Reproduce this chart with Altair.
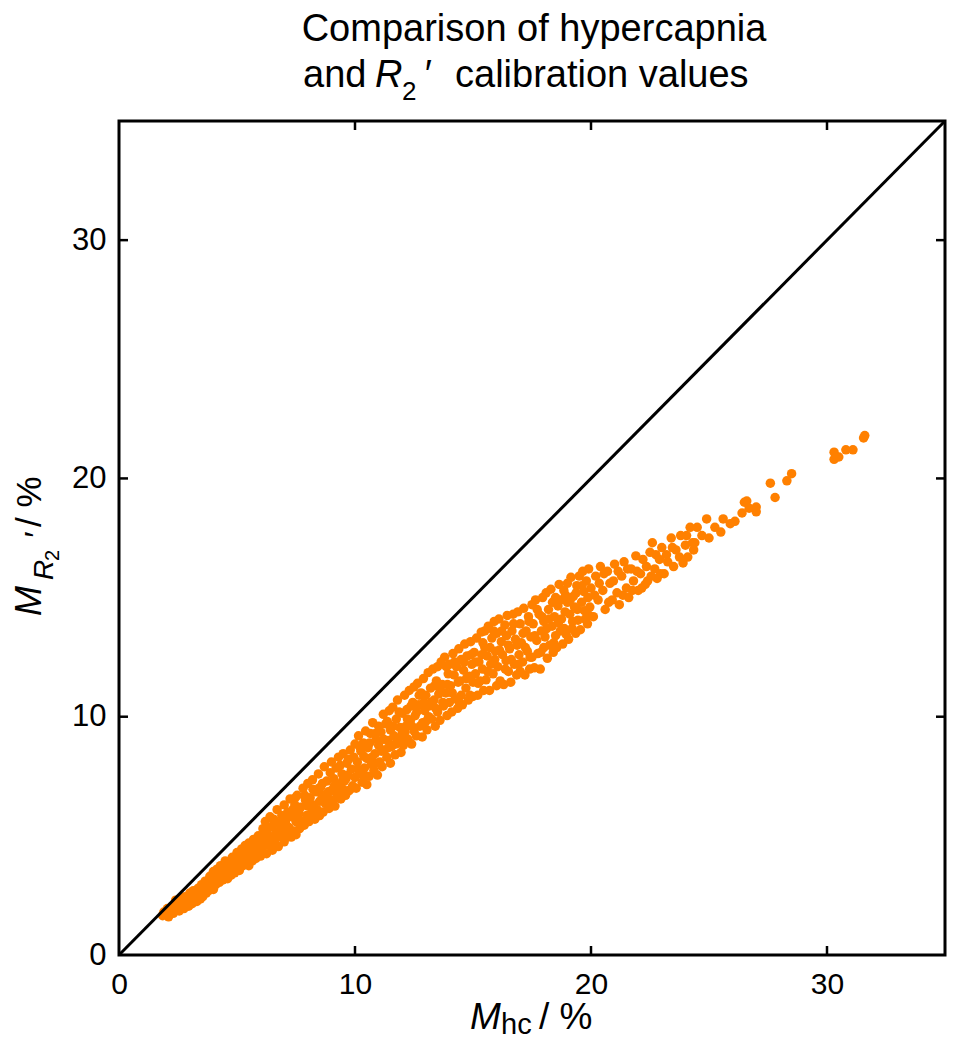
import altair as alt
import pandas as pd

# ---- data (M_hc %, M_R2' %) ----
seg_a = [(1.85,1.65),(1.9,1.8),(2.0,1.7),(2.05,1.95),(2.1,1.6),(2.2,1.85),(2.25,2.05),(2.3,1.75),(2.4,2.3),(2.45,1.9),
         (2.5,2.1),(2.55,1.85),(2.6,2.35),(2.65,2.0),(2.7,2.2),(2.75,1.95),(2.8,2.45),(2.85,2.15),(2.9,2.3),(2.95,2.05),(3.0,2.6),(3.0,2.25),
         (3.05,2.4),(3.1,2.15),(3.15,2.7),(3.2,2.35),(3.25,2.55),(3.3,2.25),(3.35,2.8),(3.4,2.5),(3.45,2.35),(3.5,2.95),(3.5,2.65),
         (3.55,2.45),(3.6,2.8),(3.65,3.1),(3.7,2.6),(3.75,2.95),(3.8,2.7),(3.85,3.3),(3.9,2.85),(3.95,3.05),(4.0,2.75),(4.0,3.5),
         (4.05,3.2),(4.1,2.95),(4.15,3.6),(4.2,3.35),(4.25,3.05),(4.3,3.75),(4.35,3.45),(4.4,3.15),(4.45,3.6),(4.5,3.3),(4.5,3.95),
         (4.55,3.5),(4.6,3.2),(4.65,3.8),(4.7,3.6),(4.75,3.35),(4.8,4.1),(4.85,3.7),(4.9,3.45),(4.95,3.95),(5.0,3.6),(5.0,4.3),
         (5.05,3.85),(5.1,3.55),(5.15,4.15),(5.2,4.45),(5.25,3.75),(5.3,4.05),(5.35,4.6),(5.4,3.9),(5.45,4.3),(5.5,3.75),(5.5,4.7),
         (5.55,4.15),(5.6,4.5),(5.65,3.95),(5.7,4.85),(5.75,4.3),(5.8,4.05),(5.85,4.65),(5.9,5.0),(5.95,4.4),(6.0,4.15),(6.0,4.85)]

seg_b = [(6.05,4.4),(6.1,5.3),(6.15,4.75),(6.2,5.6),(6.25,4.25),(6.3,5.05),(6.35,4.6),(6.4,5.8),(6.45,4.9),(6.5,4.4),(6.5,5.4),
         (6.55,5.7),(6.6,4.7),(6.65,5.15),(6.7,6.1),(6.75,4.55),(6.8,5.5),(6.85,4.95),(6.9,5.85),(6.95,5.25),(7.0,4.75),(7.0,6.3),
         (7.05,5.55),(7.1,5.0),(7.15,6.0),(7.2,5.35),(7.25,6.55),(7.3,4.95),(7.35,5.8),(7.4,5.2),(7.45,6.3),(7.5,5.6),(7.5,5.05),
         (7.55,6.7),(7.6,5.9),(7.65,5.3),(7.7,6.2),(7.75,5.6),(7.8,7.0),(7.85,5.45),(7.9,6.5),(7.95,5.85),(8.0,6.25),(8.0,7.2),
         (8.05,5.6),(8.1,6.6),(8.15,5.95),(8.2,7.35),(8.25,6.3),(8.3,5.7),(8.35,6.85),(8.4,6.1),(8.45,7.6),(8.5,6.45),(8.5,5.85),
         (8.55,7.05),(8.6,6.7),(8.65,6.0),(8.7,7.9),(8.75,6.35),(8.8,7.3),(8.85,6.6),(8.9,6.15),(8.95,7.65),(9.0,6.9),(9.0,8.1),
         (9.05,6.5),(9.1,7.4),(9.15,6.25),(9.2,7.85),(9.25,6.8),(9.3,8.3),(9.35,7.15),(9.4,6.55),(9.45,7.6),(9.5,8.45),(9.5,6.95),
         (9.55,7.3),(9.6,6.7),(9.65,8.05),(9.7,7.55),(9.75,6.9),(9.8,8.6),(9.85,7.8),(9.9,7.1),(9.95,8.3),(10.0,7.45),(10.0,8.85)]

seg_c = [(10.05,7.0),(10.1,8.1),(10.15,9.2),(10.2,7.6),(10.25,8.55),(10.3,7.25),(10.35,8.9),(10.4,7.85),(10.45,9.4),(10.5,8.25),(10.5,7.15),
         (10.55,8.7),(10.6,7.5),(10.65,9.3),(10.7,8.0),(10.75,9.75),(10.8,7.75),(10.85,8.45),(10.9,9.05),(10.95,7.55),(11.0,8.8),(11.0,9.6),
         (11.05,8.1),(11.1,9.35),(11.15,7.9),(11.2,10.1),(11.25,8.6),(11.3,9.7),(11.35,8.3),(11.4,9.0),(11.45,10.25),(11.5,8.05),(11.5,9.45),
         (11.55,8.75),(11.6,10.4),(11.65,9.2),(11.7,8.4),(11.75,9.9),(11.8,10.7),(11.85,8.9),(11.9,9.55),(11.95,8.5),(12.0,10.15),(12.0,9.3),
         (12.05,8.8),(12.1,10.9),(12.15,9.6),(12.2,10.3),(12.25,9.05),(12.3,11.1),(12.35,9.85),(12.4,8.85),(12.45,10.6),(12.5,9.4),(12.5,11.25),
         (12.55,10.05),(12.6,9.2),(12.65,11.4),(12.7,10.5),(12.75,9.6),(12.8,11.0),(12.85,9.15),(12.9,11.6),(12.95,10.25),(13.0,9.8),(13.0,10.9),
         (13.05,9.45),(13.1,11.85),(13.15,10.45),(13.2,11.2),(13.25,9.9),(13.3,12.0),(13.35,10.7),(13.4,9.6),(13.45,11.5),(13.5,10.2),(13.5,12.1),
         (13.55,10.95),(13.6,9.85),(13.65,12.3),(13.7,11.35),(13.75,10.45),(13.8,12.5),(13.85,11.0),(13.9,10.05),(13.95,11.8),(14.0,10.6),(14.0,12.2),
         (14.05,11.3),(14.1,10.2),(14.15,12.65),(14.2,11.75),(14.25,10.75),(14.3,12.1),(14.35,10.35),(14.4,12.85),(14.45,11.5),(14.5,10.9),(14.5,12.4),
         (14.55,10.5),(14.6,11.95),(14.65,13.05),(14.7,11.2),(14.75,12.55),(14.8,10.7),(14.85,11.7),(14.9,13.15),(14.95,12.2),(15.0,10.85),(15.0,11.45)]

seg_d = [(15.05,12.7),(15.1,11.8),(15.15,13.3),(15.2,10.9),(15.25,12.3),(15.3,11.5),(15.35,13.55),(15.4,12.0),(15.45,11.1),(15.5,12.9),(15.5,13.6),
         (15.55,11.55),(15.6,12.55),(15.65,13.8),(15.7,11.1),(15.75,12.2),(15.8,13.3),(15.85,11.8),(15.9,14.0),(15.95,12.75),(16.0,11.3),(16.0,13.5),
         (16.05,12.1),(16.1,14.1),(16.15,11.5),(16.2,13.15),(16.25,12.6),(16.3,11.35),(16.35,13.85),(16.4,12.35),(16.45,14.25),(16.5,11.9),(16.5,13.0),
         (16.55,12.85),(16.6,11.45),(16.65,13.6),(16.7,14.3),(16.75,12.2),(16.8,13.25),(16.85,11.75),(16.9,14.4),(16.95,12.6),(17.0,13.9),(17.0,11.9),
         (17.05,13.1),(17.1,12.3),(17.15,14.55),(17.2,11.75),(17.25,13.6),(17.3,12.75),(17.35,14.2),(17.4,12.0),(17.45,13.35),(17.5,14.7),(17.5,12.5),
         (17.55,13.9),(17.6,12.05),(17.65,14.9),(17.7,13.2),(17.75,12.65),(17.8,14.3),(17.85,12.0),(17.9,13.6),(17.95,15.0),(18.0,12.9),(18.0,14.0),
         (18.05,13.35),(18.1,15.2),(18.15,12.45),(18.2,14.5),(18.25,13.0),(18.3,15.35),(18.35,13.8),(18.4,12.7),(18.45,14.2),(18.5,15.0),(18.5,13.4),
         (18.55,12.9),(18.6,14.65),(18.65,15.55),(18.7,13.6),(18.75,14.1),(18.8,13.05),(18.85,15.3),(18.9,14.4),(18.95,13.45),(19.0,15.6),(19.0,14.8),
         (19.05,13.25),(19.1,14.3),(19.15,15.85),(19.2,13.7),(19.25,15.05),(19.3,14.6),(19.35,13.5),(19.4,15.5),(19.45,14.05),(19.5,15.9),
         (19.55,13.65),(19.6,14.8),(19.65,16.1),(19.7,15.25),(19.75,14.1),(19.8,15.7),(19.85,13.9),(19.9,16.2),(19.95,14.6),(20.0,15.4)]

seg_e = [(20.1,14.2),(20.2,15.9),(20.3,14.9),(20.4,16.3),(20.5,15.3),(20.6,14.5),(20.7,16.1),(20.8,15.6),(20.9,14.9),(21.0,16.4),
         (21.1,15.2),(21.2,14.7),(21.3,15.9),(21.4,16.5),(21.5,15.4),(21.6,15.0),(21.7,16.2),(21.8,15.7),(21.9,16.75),(22.0,15.3),
         (22.1,16.0),(22.2,16.6),(22.3,15.55),(22.4,15.7),(22.5,16.9),(22.6,17.3),(22.7,16.2),(22.8,15.8),(22.9,16.6),(23.0,17.1),
         (23.1,16.0),(23.2,16.8),(23.4,17.5),(23.5,16.3),(23.6,17.0),(23.8,17.6),(23.9,16.45),(24.0,17.2),(24.1,16.7),(24.2,17.95),(24.3,17.3)]

seg_f = [(24.4,17.3),(24.5,17.95),(24.7,17.6),(24.9,18.3),(25.0,17.5),(25.25,17.95),(25.5,17.75),(25.6,18.3),(25.9,18.1),
         (26.1,18.2),(26.4,18.55),(26.5,19.0),(26.6,19.05),(26.7,18.75),(27.0,18.8),(27.0,18.6),(27.6,19.8),(27.8,19.2),
         (28.3,19.9),(28.5,20.2),(30.3,21.1),(30.3,20.8),(30.5,20.9),(30.8,21.2),(31.1,21.2),(31.55,21.7),(31.6,21.8)]

fill_ab = [(2.12,1.9),(2.37,2.0),(2.62,2.1),(2.87,2.3),(3.12,2.5),(3.37,2.6),(3.62,2.7),(3.87,2.95),(4.12,3.2),(4.37,3.3),
           (4.62,3.45),(4.87,3.6),(5.12,3.9),(5.37,4.2),(5.62,4.3),(5.87,4.5),(3.27,2.45),(4.77,3.8),(5.22,4.0),(5.77,4.7),
           (6.12,4.6),(6.22,5.1),(6.37,5.35),(6.62,5.0),(6.72,5.55),(6.87,5.3),(7.12,5.75),(7.22,5.2),(7.37,6.1),(7.62,6.0),
           (7.72,5.5),(7.87,6.7),(8.12,6.25),(8.22,6.95),(8.37,5.9),(8.62,7.2),(8.72,6.5),(8.87,6.85),(9.12,7.1),(9.22,6.6),
           (9.37,7.95),(9.62,7.4),(9.72,8.2),(9.87,7.0),(6.42,4.7),(7.47,6.6),(8.47,7.0),(9.47,7.3)]

fill_cd = [(10.12,7.8),(10.22,8.7),(10.37,8.35),(10.42,7.5),(10.62,8.9),(10.72,8.3),(10.87,9.3),(10.92,8.05),
           (11.12,8.55),(11.22,9.05),(11.37,9.8),(11.42,8.7),(11.62,9.6),(11.72,8.85),(11.87,10.2),(11.92,9.1),
           (12.12,9.35),(12.22,9.9),(12.37,10.45),(12.42,9.6),(12.62,10.2),(12.72,10.9),(12.87,9.75),(12.92,10.6),
           (13.12,10.0),(13.22,10.6),(13.37,11.3),(13.42,10.35),(13.62,11.1),(13.72,10.6),(13.87,12.1),(13.92,11.35),
           (14.12,11.0),(14.22,12.3),(14.37,11.45),(14.42,10.6),(14.62,12.3),(14.72,11.6),(14.87,10.9),(14.92,12.6),
           (15.12,12.3),(15.22,11.4),(15.37,12.6),(15.42,13.1),(15.62,11.9),(15.72,12.9),(15.87,13.6),(15.92,12.4),
           (16.12,12.8),(16.22,13.6),(16.37,12.0),(16.42,13.4),(16.62,12.4),(16.72,13.9),(16.87,13.0),(16.92,12.2),
           (17.12,13.5),(17.22,12.9),(17.37,14.0),(17.42,12.5),(17.62,13.4),(17.72,14.5),(17.87,12.7),(17.92,14.2),
           (18.12,13.7),(18.22,14.1),(18.37,14.8),(18.42,13.1),(18.62,13.95),(18.72,14.9),(18.87,13.7),(18.92,15.1),
           (19.12,14.9),(19.22,14.0),(19.37,15.2),(19.42,14.5),(19.62,15.5),(19.72,14.45),(19.87,15.0),(19.92,14.25)]

fill_e = [(20.15,15.1),(20.35,15.6),(20.55,16.0),(20.75,14.8),(20.95,15.7),(21.15,16.1),(21.35,15.1),(21.55,16.2),
          (21.75,15.3),(21.95,16.1),(22.15,15.4),(22.35,16.3),(22.55,15.9),(22.75,16.8),(22.95,16.0),(23.25,16.5),
          (23.45,17.1),(23.75,16.7),(24.05,17.6),(24.35,17.0)]

tick_vals = [10, 20, 30]
diag_vals = [0, 35]

FONT = "Liberation Sans"
W, H = 826, 834
OX, OY = 119, 121  # page position of the plot area's top-left corner

pts = pd.DataFrame(seg_a + seg_b + seg_c + seg_d + seg_e + seg_f + fill_ab + fill_cd + fill_e,
                   columns=["hc", "r2"])
xs = alt.Scale(domain=[0, 35], nice=False, zero=False)
ys = alt.Scale(domain=[0, 35], nice=False, zero=False)

xaxis = alt.Axis(values=[0, 10, 20, 30], tickSize=0, domain=False, grid=False, labelFontSize=30,
                 labelFont=FONT, labelColor="black", labelPadding=14, title=None, labelFlush=False)
yaxis = alt.Axis(values=[0, 10, 20, 30], tickSize=0, domain=False, grid=False, labelFontSize=31,
                 labelFont=FONT, labelColor="black", labelPadding=13, title=None, labelFlush=False)

scatter = alt.Chart(pts).mark_circle(color="#ff8000", opacity=1, size=90).encode(
    x=alt.X("hc:Q", scale=xs, axis=xaxis),
    y=alt.Y("r2:Q", scale=ys, axis=yaxis),
)

diag = alt.Chart(pd.DataFrame({"v": diag_vals})).mark_line(color="black", strokeWidth=3).encode(
    x=alt.X("v:Q", scale=xs), y=alt.Y("v:Q", scale=ys)
)

tdf = pd.DataFrame({"v": tick_vals})
tk = dict(color="black", strokeWidth=2.5)
t_bottom = alt.Chart(tdf).mark_rule(**tk).encode(x=alt.X("v:Q", scale=xs), y=alt.value(H), y2=alt.value(H - 9))
t_top = alt.Chart(tdf).mark_rule(**tk).encode(x=alt.X("v:Q", scale=xs), y=alt.value(0), y2=alt.value(9))
t_left = alt.Chart(tdf).mark_rule(**tk).encode(y=alt.Y("v:Q", scale=ys), x=alt.value(0), x2=alt.value(9))
t_right = alt.Chart(tdf).mark_rule(**tk).encode(y=alt.Y("v:Q", scale=ys), x=alt.value(W), x2=alt.value(W - 9))


def txt(s, px, py, size, italic=False, angle=0, align="left"):
    opts = dict(font=FONT, fontSize=size, color="black", align=align, baseline="alphabetic")
    if italic:
        opts["fontStyle"] = "italic"
    if angle:
        opts["angle"] = angle
    return alt.Chart(pd.DataFrame({"t": [s]})).mark_text(**opts).encode(
        x=alt.value(px - OX), y=alt.value(py - OY), text="t:N"
    )


texts = [
    # title
    txt("Comparison of hypercapnia", 534, 41, 38, align="center"),
    txt("and", 303, 87, 38),
    txt("R", 375, 87, 38, italic=True),
    txt("2", 402, 100, 26),
    txt("′", 423, 87, 38, italic=True),
    txt("calibration values", 455, 87, 38),
    # x title
    txt("M", 470, 1029, 37, italic=True),
    txt("hc", 501, 1034, 29),
    txt(" / %", 539, 1029, 37),
    # y title (rotated)
    txt("M", 41, 616, 36, italic=True, angle=270),
    txt("R", 53, 580, 28, italic=True, angle=270),
    txt("2", 59, 561, 20, angle=270),
    txt("′", 47, 539, 32, italic=True, angle=270),
    txt(" / %", 41, 527, 35, angle=270),
]

chart = alt.layer(scatter, diag, t_bottom, t_top, t_left, t_right, *texts).properties(
    width=W, height=H,
    autosize=alt.AutoSizeParams(type="none"),
    padding={"left": OX - 8, "top": OY - 8, "right": 2, "bottom": 84},
).configure_view(stroke="black", strokeWidth=3)

chart.save("out.html", embed_options={"renderer": "svg", "actions": False})
